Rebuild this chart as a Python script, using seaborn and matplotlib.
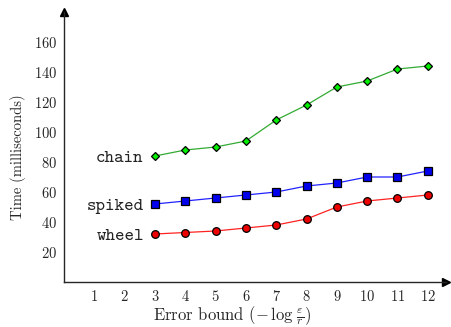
import pandas as pd
import matplotlib.pyplot as plt
import seaborn as sns

# datos
error_bound = [3, 4, 5, 6, 7, 8, 9, 10, 11, 12]
chain = [84, 88, 90, 94, 108, 118, 130, 134, 142, 144]
spiked = [52, 54, 56, 58, 60, 64, 66, 70, 70, 74]
wheel = [32, 33, 34, 36, 38, 42, 50, 54, 56, 58]
x_ticks = [1, 2, 3, 4, 5, 6, 7, 8, 9, 10, 11, 12]
y_ticks = [20, 40, 60, 80, 100, 120, 140, 160]

df = pd.DataFrame({
    'bound': error_bound * 3,
    'time': chain + spiked + wheel,
    'graph': ['chain'] * 10 + ['spiked'] * 10 + ['wheel'] * 10,
})

sns.set_style("white")
plt.rcParams['font.family'] = ['cmr10', 'DejaVu Serif']
plt.rcParams['mathtext.fontset'] = 'cm'
plt.rcParams['axes.unicode_minus'] = False
plt.rcParams['axes.formatter.use_mathtext'] = True

fig = plt.figure(figsize=(4.51, 3.27), dpi=100)
ax = fig.add_axes([64 / 451, 1 - 282 / 327, 382 / 451, 270 / 327])

estilos = {
    'chain': dict(color='#33aa33', marker='D', mfc='#00ee00', ms=4.5),
    'spiked': dict(color='#2222ff', marker='s', mfc='#0000ee', ms=5.5),
    'wheel': dict(color='#ff2222', marker='o', mfc='#ee0000', ms=5.5),
}
for name, st in estilos.items():
    sns.lineplot(data=df[df['graph'] == name], x='bound', y='time', ax=ax,
                 color=st['color'], marker=st['marker'], markersize=st['ms'],
                 markerfacecolor=st['mfc'], markeredgecolor='black',
                 markeredgewidth=0.9, linewidth=0.9)

# etiquetas de las series
etiquetas = {'chain': 82.5, 'spiked': 50.5, 'wheel': 30}
for name, yv in etiquetas.items():
    ax.text(2.63, yv, name, family='cmtt10', fontsize=13, ha='right', va='center',
            color='#222222')

ax.set_xlim(0, 12.6)
ax.set_ylim(0, 180)
ax.set_xticks(x_ticks)
ax.set_yticks(y_ticks)
ax.tick_params(labelsize=10.5, length=3, width=0.8, direction='out', pad=2)
ax.set_xlabel(r'Error bound $(-\,\log\,\frac{\varepsilon}{r})$', fontsize=12)
ax.set_ylabel('Time (milliseconds)', fontsize=10.5)
ax.xaxis.set_label_coords(0.44, -0.083, transform=ax.transAxes)
ax.yaxis.set_label_coords(-0.1, 0.463, transform=ax.transAxes)

sns.despine(ax=ax)
ax.spines['left'].set_linewidth(1.0)
ax.spines['bottom'].set_linewidth(1.0)
ax.plot(1, 0, '>k', ms=6, transform=ax.get_yaxis_transform(), clip_on=False)
ax.plot(0, 1, '^k', ms=6, transform=ax.get_xaxis_transform(), clip_on=False)

fig.savefig('out.png', dpi=100)
